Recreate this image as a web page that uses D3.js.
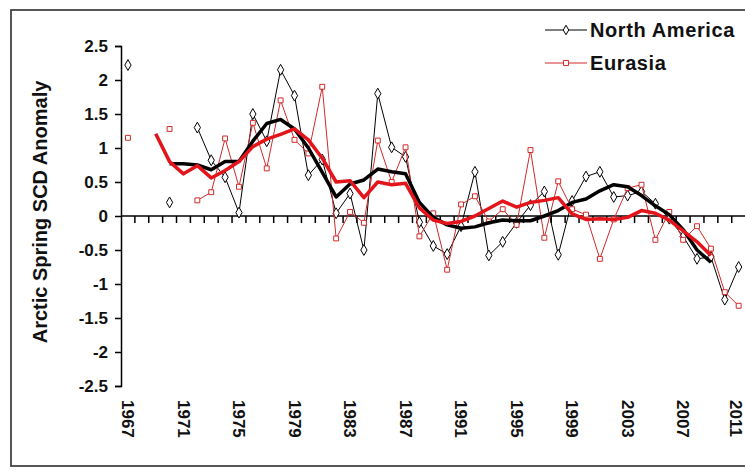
<!DOCTYPE html>
<html lang="en">
<head>
<meta charset="UTF-8">
<title>Arctic Spring SCD Anomaly</title>
<script src="https://d3js.org/d3.v7.min.js"></script>
<style>
  body { margin: 0; background: #fff; }
  .tick-label { font: bold 17px "Liberation Sans", Arial, sans-serif; fill: #111; }
  .axis-title { font: bold 20px "Liberation Sans", Arial, sans-serif; fill: #111; }
  .legend text { font: bold 20px "Liberation Sans", Arial, sans-serif; fill: #111; letter-spacing: 0.6px; }
</style>
</head>
<body>
<svg width="745" height="472"></svg>
<script>
// categories
const years = d3.range(1967, 2012);
const yTicks = [-2.5, -2, -1.5, -1, -0.5, 0, 0.5, 1, 1.5, 2, 2.5];
const labelYears = [1967, 1971, 1975, 1979, 1983, 1987, 1991, 1995, 1999, 2003, 2007, 2011];

// yearly anomalies (null = no value)
const northAmerica = [2.22, null, null, 0.2, null, 1.3, 0.82, 0.57, 0.05, 1.5,
  1.1, 2.15, 1.77, 0.6, 0.83, 0.04, 0.33, -0.5, 1.8, 1.01,
  0.87, -0.09, -0.44, -0.56, -0.15, 0.65, -0.58, -0.38, -0.1, 0.16,
  0.36, -0.57, 0.22, 0.58, 0.65, 0.28, 0.3, 0.36, 0.18, -0.04,
  -0.3, -0.63, -0.6, -1.23, -0.75];
const eurasia = [1.15, null, null, 1.28, null, 0.23, 0.35, 1.14, 0.43, 1.37,
  0.7, 1.7, 1.12, 0.92, 1.9, -0.33, 0.06, -0.1, 1.11, 0.5,
  1.01, -0.3, 0.04, -0.79, 0.17, 0.29, -0.08, 0.1, -0.13, 0.97,
  -0.32, 0.51, 0.1, 0.02, -0.63, -0.05, 0.41, 0.46, -0.35, 0.06,
  -0.35, -0.15, -0.48, -1.12, -1.32];

// running means
const northAmericaMean = [null, null, null, 0.77, 0.77, 0.75, 0.68, 0.8, 0.8, 1.1,
  1.36, 1.42, 1.28, 1.0, 0.64, 0.28, 0.47, 0.53, 0.69, 0.65,
  0.62, 0.2, -0.02, -0.13, -0.18, -0.16, -0.1, -0.06, -0.07, -0.07,
  0.0, 0.08, 0.2, 0.25, 0.37, 0.46, 0.43, 0.3, 0.15, 0.02,
  -0.2, -0.5, -0.68, null, null];
const eurasiaMean = [null, null, 1.21, 0.8, 0.62, 0.74, 0.56, 0.67, 0.8, 1.02,
  1.13, 1.2, 1.28, 1.12, 0.85, 0.5, 0.52, 0.27, 0.5, 0.46,
  0.48, 0.12, -0.06, -0.11, -0.08, 0.0, 0.11, 0.22, 0.13, 0.2,
  0.23, 0.27, 0.03, -0.05, -0.04, -0.05, -0.02, 0.08, 0.04, -0.06,
  -0.22, -0.38, -0.58, null, null];

const black = "#000";
const red = "#e3151b";
const redThin = "#d22a2a";

const svg = d3.select("svg");

// chart border
svg.append("rect")
  .attr("x", 11).attr("y", 10)
  .attr("width", 760).attr("height", 456)
  .attr("fill", "#fff")
  .attr("stroke", "#444")
  .attr("stroke-width", 1.8);

const x = d3.scaleBand()
  .domain(years)
  .range([121, 121 + years.length * 13.88]);

const y = d3.scaleLinear()
  .domain([-2.5, 2.5])
  .range([386, 46]);

const cx = d => x(d) + x.bandwidth() / 2;

// y axis
const yAxis = svg.append("g")
  .attr("transform", "translate(121,0)")
  .call(d3.axisLeft(y).tickValues(yTicks).tickSize(6).tickFormat(d => String(d)));
yAxis.select(".domain").attr("stroke", "#000").attr("stroke-width", 1.5);
yAxis.selectAll(".tick line").attr("stroke", "#000").attr("stroke-width", 1.5);
yAxis.selectAll(".tick text")
  .attr("class", "tick-label")
  .attr("x", -13)
  .attr("font-family", null).attr("font-size", null);

// x axis on zero line, ticks between categories
const xAxis = svg.append("g");
xAxis.append("line")
  .attr("x1", x.range()[0]).attr("x2", x.range()[1])
  .attr("y1", y(0)).attr("y2", y(0))
  .attr("stroke", "#000").attr("stroke-width", 1.5);
xAxis.selectAll("line.tk")
  .data(years.slice(1))
  .join("line")
  .attr("class", "tk")
  .attr("x1", d => x(d)).attr("x2", d => x(d))
  .attr("y1", y(0)).attr("y2", y(0) + 7)
  .attr("stroke", "#000").attr("stroke-width", 1.5);

svg.append("g")
  .selectAll("text")
  .data(labelYears)
  .join("text")
  .attr("class", "tick-label")
  .attr("transform", d => `translate(${Math.min(cx(d), 736)},400) rotate(90)`)
  .attr("dy", "0.35em")
  .text(d => d);

// axis title
svg.append("text")
  .attr("class", "axis-title")
  .attr("transform", `translate(40,${y(0) - 4}) rotate(-90)`)
  .attr("text-anchor", "middle")
  .attr("dy", "0.35em")
  .text("Arctic Spring SCD Anomaly");

// series
const thin = d3.line()
  .defined(d => d.v !== null)
  .x(d => cx(d.year))
  .y(d => y(d.v));

function pairs(vals) {
  return years.map((year, i) => ({ year, v: vals[i] }));
}

const plot = svg.append("g");

function drawRaw(vals, color, shape) {
  const data = pairs(vals);
  plot.append("path")
    .datum(data)
    .attr("fill", "none")
    .attr("stroke", color)
    .attr("stroke-width", 1)
    .attr("d", thin);
  plot.append("g")
    .selectAll("path")
    .data(data.filter(d => d.v !== null))
    .join("path")
    .attr("transform", d => `translate(${cx(d.year)},${y(d.v)})`)
    .attr("d", d3.symbol().type(shape).size(shape === d3.symbolDiamond ? 34 : 24))
    .attr("fill", "#fff")
    .attr("stroke", color)
    .attr("stroke-width", 1);
}

function drawMean(vals, color) {
  plot.append("path")
    .datum(pairs(vals))
    .attr("fill", "none")
    .attr("stroke", color)
    .attr("stroke-width", 3.5)
    .attr("stroke-linejoin", "round")
    .attr("d", thin);
}

drawRaw(northAmerica, black, d3.symbolDiamond);
drawRaw(eurasia, redThin, d3.symbolSquare);
drawMean(northAmericaMean, black);
drawMean(eurasiaMean, red);

// legend
const legendItems = [
  { name: "North America", color: black, shape: d3.symbolDiamond },
  { name: "Eurasia", color: redThin, shape: d3.symbolSquare }
];
const legend = svg.append("g").attr("class", "legend");
const item = legend.selectAll("g")
  .data(legendItems)
  .join("g")
  .attr("transform", (d, i) => `translate(545,${30 + i * 33})`);
item.append("line")
  .attr("x1", 0).attr("x2", 42)
  .attr("stroke", d => d.color).attr("stroke-width", 1.2);
item.append("path")
  .attr("transform", "translate(21,0)")
  .attr("d", d => d3.symbol().type(d.shape).size(26)())
  .attr("fill", "#fff")
  .attr("stroke", d => d.color);
item.append("text")
  .attr("x", 45)
  .attr("dy", "0.35em")
  .text(d => d.name);
</script>
</body>
</html>
